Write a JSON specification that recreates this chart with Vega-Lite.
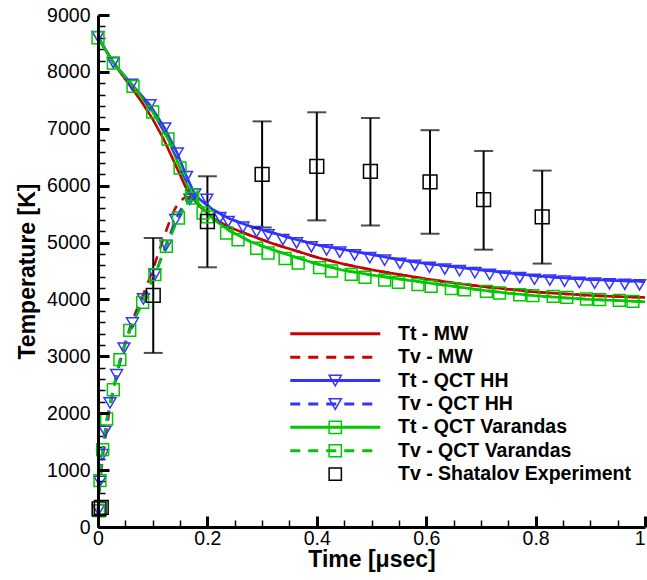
{
  "$schema": "https://vega.github.io/schema/vega-lite/v6.json",
  "width": 547,
  "height": 512,
  "autosize": "none",
  "padding": {"left": 98, "top": 15, "right": 2, "bottom": 53},
  "background": "white",
  "config": {"view": {"stroke": null}, "font": "Liberation Sans"},
  "datasets": {
    "curves": [
      {"series": "Tt - MW", "t": 0, "T": 8600}, {"series": "Tt - MW", "t": 0.02, "T": 8290}, {"series": "Tt - MW", "t": 0.04, "T": 8000}, {"series": "Tt - MW", "t": 0.06, "T": 7740}, {"series": "Tt - MW", "t": 0.08, "T": 7470}, {"series": "Tt - MW", "t": 0.10, "T": 7170}, {"series": "Tt - MW", "t": 0.12, "T": 6820}, {"series": "Tt - MW", "t": 0.14, "T": 6400}, {"series": "Tt - MW", "t": 0.16, "T": 5980}, {"series": "Tt - MW", "t": 0.172, "T": 5790}, {"series": "Tt - MW", "t": 0.186, "T": 5640}, {"series": "Tt - MW", "t": 0.21, "T": 5430}, {"series": "Tt - MW", "t": 0.24, "T": 5270}, {"series": "Tt - MW", "t": 0.28, "T": 5120}, {"series": "Tt - MW", "t": 0.32, "T": 4980}, {"series": "Tt - MW", "t": 0.36, "T": 4860}, {"series": "Tt - MW", "t": 0.40, "T": 4740}, {"series": "Tt - MW", "t": 0.45, "T": 4620}, {"series": "Tt - MW", "t": 0.50, "T": 4520}, {"series": "Tt - MW", "t": 0.55, "T": 4440}, {"series": "Tt - MW", "t": 0.60, "T": 4360}, {"series": "Tt - MW", "t": 0.65, "T": 4290}, {"series": "Tt - MW", "t": 0.70, "T": 4230}, {"series": "Tt - MW", "t": 0.75, "T": 4180}, {"series": "Tt - MW", "t": 0.80, "T": 4130}, {"series": "Tt - MW", "t": 0.85, "T": 4100}, {"series": "Tt - MW", "t": 0.90, "T": 4070}, {"series": "Tt - MW", "t": 0.95, "T": 4050}, {"series": "Tt - MW", "t": 1.0, "T": 4035},
      {"series": "Tv - MW", "t": 0, "T": 300}, {"series": "Tv - MW", "t": 0.004, "T": 800}, {"series": "Tv - MW", "t": 0.01, "T": 1350}, {"series": "Tv - MW", "t": 0.02, "T": 2000}, {"series": "Tv - MW", "t": 0.03, "T": 2500}, {"series": "Tv - MW", "t": 0.04, "T": 2900}, {"series": "Tv - MW", "t": 0.05, "T": 3250}, {"series": "Tv - MW", "t": 0.06, "T": 3550}, {"series": "Tv - MW", "t": 0.07, "T": 3800}, {"series": "Tv - MW", "t": 0.08, "T": 4020}, {"series": "Tv - MW", "t": 0.09, "T": 4260}, {"series": "Tv - MW", "t": 0.10, "T": 4520}, {"series": "Tv - MW", "t": 0.11, "T": 4800}, {"series": "Tv - MW", "t": 0.12, "T": 5080}, {"series": "Tv - MW", "t": 0.13, "T": 5350}, {"series": "Tv - MW", "t": 0.14, "T": 5580}, {"series": "Tv - MW", "t": 0.15, "T": 5730}, {"series": "Tv - MW", "t": 0.16, "T": 5800}, {"series": "Tv - MW", "t": 0.172, "T": 5790}, {"series": "Tv - MW", "t": 0.186, "T": 5640}, {"series": "Tv - MW", "t": 0.21, "T": 5430}, {"series": "Tv - MW", "t": 0.24, "T": 5270}, {"series": "Tv - MW", "t": 0.28, "T": 5120}, {"series": "Tv - MW", "t": 0.32, "T": 4980}, {"series": "Tv - MW", "t": 0.36, "T": 4860}, {"series": "Tv - MW", "t": 0.40, "T": 4740}, {"series": "Tv - MW", "t": 0.45, "T": 4620}, {"series": "Tv - MW", "t": 0.50, "T": 4520}, {"series": "Tv - MW", "t": 0.55, "T": 4440}, {"series": "Tv - MW", "t": 0.60, "T": 4360}, {"series": "Tv - MW", "t": 0.65, "T": 4290}, {"series": "Tv - MW", "t": 0.70, "T": 4230}, {"series": "Tv - MW", "t": 0.75, "T": 4180}, {"series": "Tv - MW", "t": 0.80, "T": 4130}, {"series": "Tv - MW", "t": 0.85, "T": 4100}, {"series": "Tv - MW", "t": 0.90, "T": 4070}, {"series": "Tv - MW", "t": 0.95, "T": 4050}, {"series": "Tv - MW", "t": 1.0, "T": 4035},
      {"series": "Tt - QCT HH", "t": 0, "T": 8620}, {"series": "Tt - QCT HH", "t": 0.028, "T": 8160}, {"series": "Tt - QCT HH", "t": 0.062, "T": 7780}, {"series": "Tt - QCT HH", "t": 0.095, "T": 7420}, {"series": "Tt - QCT HH", "t": 0.122, "T": 7010}, {"series": "Tt - QCT HH", "t": 0.145, "T": 6570}, {"series": "Tt - QCT HH", "t": 0.162, "T": 6160}, {"series": "Tt - QCT HH", "t": 0.177, "T": 5850}, {"series": "Tt - QCT HH", "t": 0.186, "T": 5760}, {"series": "Tt - QCT HH", "t": 0.21, "T": 5580}, {"series": "Tt - QCT HH", "t": 0.24, "T": 5420}, {"series": "Tt - QCT HH", "t": 0.28, "T": 5280}, {"series": "Tt - QCT HH", "t": 0.32, "T": 5170}, {"series": "Tt - QCT HH", "t": 0.36, "T": 5060}, {"series": "Tt - QCT HH", "t": 0.40, "T": 4960}, {"series": "Tt - QCT HH", "t": 0.45, "T": 4875}, {"series": "Tt - QCT HH", "t": 0.50, "T": 4790}, {"series": "Tt - QCT HH", "t": 0.55, "T": 4700}, {"series": "Tt - QCT HH", "t": 0.60, "T": 4630}, {"series": "Tt - QCT HH", "t": 0.65, "T": 4575}, {"series": "Tt - QCT HH", "t": 0.70, "T": 4520}, {"series": "Tt - QCT HH", "t": 0.75, "T": 4465}, {"series": "Tt - QCT HH", "t": 0.80, "T": 4415}, {"series": "Tt - QCT HH", "t": 0.85, "T": 4380}, {"series": "Tt - QCT HH", "t": 0.90, "T": 4350}, {"series": "Tt - QCT HH", "t": 0.95, "T": 4330}, {"series": "Tt - QCT HH", "t": 1.0, "T": 4315},
      {"series": "Tv - QCT HH", "t": 0, "T": 300}, {"series": "Tv - QCT HH", "t": 0.004, "T": 850}, {"series": "Tv - QCT HH", "t": 0.0085, "T": 1271}, {"series": "Tv - QCT HH", "t": 0.0128, "T": 1681}, {"series": "Tv - QCT HH", "t": 0.022, "T": 2180}, {"series": "Tv - QCT HH", "t": 0.034, "T": 2677}, {"series": "Tv - QCT HH", "t": 0.0475, "T": 3146}, {"series": "Tv - QCT HH", "t": 0.063, "T": 3586}, {"series": "Tv - QCT HH", "t": 0.083, "T": 4008}, {"series": "Tv - QCT HH", "t": 0.104, "T": 4435}, {"series": "Tv - QCT HH", "t": 0.124, "T": 4950}, {"series": "Tv - QCT HH", "t": 0.142, "T": 5402}, {"series": "Tv - QCT HH", "t": 0.158, "T": 5700}, {"series": "Tv - QCT HH", "t": 0.17, "T": 5790}, {"series": "Tv - QCT HH", "t": 0.186, "T": 5760}, {"series": "Tv - QCT HH", "t": 0.21, "T": 5580}, {"series": "Tv - QCT HH", "t": 0.24, "T": 5420}, {"series": "Tv - QCT HH", "t": 0.28, "T": 5280}, {"series": "Tv - QCT HH", "t": 0.32, "T": 5170}, {"series": "Tv - QCT HH", "t": 0.36, "T": 5060}, {"series": "Tv - QCT HH", "t": 0.40, "T": 4960}, {"series": "Tv - QCT HH", "t": 0.45, "T": 4875}, {"series": "Tv - QCT HH", "t": 0.50, "T": 4790}, {"series": "Tv - QCT HH", "t": 0.55, "T": 4700}, {"series": "Tv - QCT HH", "t": 0.60, "T": 4630}, {"series": "Tv - QCT HH", "t": 0.65, "T": 4575}, {"series": "Tv - QCT HH", "t": 0.70, "T": 4520}, {"series": "Tv - QCT HH", "t": 0.75, "T": 4465}, {"series": "Tv - QCT HH", "t": 0.80, "T": 4415}, {"series": "Tv - QCT HH", "t": 0.85, "T": 4380}, {"series": "Tv - QCT HH", "t": 0.90, "T": 4350}, {"series": "Tv - QCT HH", "t": 0.95, "T": 4330}, {"series": "Tv - QCT HH", "t": 1.0, "T": 4315},
      {"series": "Tt - QCT Varandas", "t": 0, "T": 8600}, {"series": "Tt - QCT Varandas", "t": 0.028, "T": 8156}, {"series": "Tt - QCT Varandas", "t": 0.064, "T": 7745}, {"series": "Tt - QCT Varandas", "t": 0.1, "T": 7295}, {"series": "Tt - QCT Varandas", "t": 0.128, "T": 6820}, {"series": "Tt - QCT Varandas", "t": 0.15, "T": 6310}, {"series": "Tt - QCT Varandas", "t": 0.171, "T": 5841}, {"series": "Tt - QCT Varandas", "t": 0.186, "T": 5665}, {"series": "Tt - QCT Varandas", "t": 0.21, "T": 5420}, {"series": "Tt - QCT Varandas", "t": 0.24, "T": 5210}, {"series": "Tt - QCT Varandas", "t": 0.28, "T": 5010}, {"series": "Tt - QCT Varandas", "t": 0.32, "T": 4870}, {"series": "Tt - QCT Varandas", "t": 0.36, "T": 4745}, {"series": "Tt - QCT Varandas", "t": 0.40, "T": 4625}, {"series": "Tt - QCT Varandas", "t": 0.45, "T": 4510}, {"series": "Tt - QCT Varandas", "t": 0.50, "T": 4430}, {"series": "Tt - QCT Varandas", "t": 0.55, "T": 4360}, {"series": "Tt - QCT Varandas", "t": 0.60, "T": 4295}, {"series": "Tt - QCT Varandas", "t": 0.65, "T": 4230}, {"series": "Tt - QCT Varandas", "t": 0.70, "T": 4165}, {"series": "Tt - QCT Varandas", "t": 0.75, "T": 4110}, {"series": "Tt - QCT Varandas", "t": 0.80, "T": 4065}, {"series": "Tt - QCT Varandas", "t": 0.85, "T": 4030}, {"series": "Tt - QCT Varandas", "t": 0.90, "T": 4000}, {"series": "Tt - QCT Varandas", "t": 0.95, "T": 3980}, {"series": "Tt - QCT Varandas", "t": 1.0, "T": 3960},
      {"series": "Tv - QCT Varandas", "t": 0, "T": 290}, {"series": "Tv - QCT Varandas", "t": 0.0036, "T": 814}, {"series": "Tv - QCT Varandas", "t": 0.0085, "T": 1359}, {"series": "Tv - QCT Varandas", "t": 0.0158, "T": 1898}, {"series": "Tv - QCT Varandas", "t": 0.028, "T": 2413}, {"series": "Tv - QCT Varandas", "t": 0.04, "T": 2941}, {"series": "Tv - QCT Varandas", "t": 0.058, "T": 3456}, {"series": "Tv - QCT Varandas", "t": 0.0816, "T": 3948}, {"series": "Tv - QCT Varandas", "t": 0.104, "T": 4435}, {"series": "Tv - QCT Varandas", "t": 0.125, "T": 4932}, {"series": "Tv - QCT Varandas", "t": 0.147, "T": 5431}, {"series": "Tv - QCT Varandas", "t": 0.163, "T": 5700}, {"series": "Tv - QCT Varandas", "t": 0.175, "T": 5790}, {"series": "Tv - QCT Varandas", "t": 0.186, "T": 5665}, {"series": "Tv - QCT Varandas", "t": 0.21, "T": 5420}, {"series": "Tv - QCT Varandas", "t": 0.24, "T": 5210}, {"series": "Tv - QCT Varandas", "t": 0.28, "T": 5010}, {"series": "Tv - QCT Varandas", "t": 0.32, "T": 4870}, {"series": "Tv - QCT Varandas", "t": 0.36, "T": 4745}, {"series": "Tv - QCT Varandas", "t": 0.40, "T": 4625}, {"series": "Tv - QCT Varandas", "t": 0.45, "T": 4510}, {"series": "Tv - QCT Varandas", "t": 0.50, "T": 4430}, {"series": "Tv - QCT Varandas", "t": 0.55, "T": 4360}, {"series": "Tv - QCT Varandas", "t": 0.60, "T": 4295}, {"series": "Tv - QCT Varandas", "t": 0.65, "T": 4230}, {"series": "Tv - QCT Varandas", "t": 0.70, "T": 4165}, {"series": "Tv - QCT Varandas", "t": 0.75, "T": 4110}, {"series": "Tv - QCT Varandas", "t": 0.80, "T": 4065}, {"series": "Tv - QCT Varandas", "t": 0.85, "T": 4030}, {"series": "Tv - QCT Varandas", "t": 0.90, "T": 4000}, {"series": "Tv - QCT Varandas", "t": 0.95, "T": 3980}, {"series": "Tv - QCT Varandas", "t": 1.0, "T": 3960}
    ],
    "markers": [
      {"series": "Tt - QCT HH", "t": 0, "T": 8620}, {"series": "Tt - QCT HH", "t": 0.028, "T": 8160}, {"series": "Tt - QCT HH", "t": 0.062, "T": 7780}, {"series": "Tt - QCT HH", "t": 0.095, "T": 7420}, {"series": "Tt - QCT HH", "t": 0.122, "T": 7010}, {"series": "Tt - QCT HH", "t": 0.145, "T": 6570}, {"series": "Tt - QCT HH", "t": 0.162, "T": 6160}, {"series": "Tt - QCT HH", "t": 0.177, "T": 5850}, {"series": "Tt - QCT HH", "t": 0.199, "T": 5757}, {"series": "Tt - QCT HH", "t": 0.238, "T": 5370}, {"series": "Tt - QCT HH", "t": 0.29, "T": 5190}, {"series": "Tt - QCT HH", "t": 0.338, "T": 5050}, {"series": "Tt - QCT HH", "t": 0.39, "T": 4925}, {"series": "Tt - QCT HH", "t": 0.442, "T": 4830}, {"series": "Tt - QCT HH", "t": 0.497, "T": 4735}, {"series": "Tt - QCT HH", "t": 0.552, "T": 4635}, {"series": "Tt - QCT HH", "t": 0.606, "T": 4565}, {"series": "Tt - QCT HH", "t": 0.661, "T": 4505}, {"series": "Tt - QCT HH", "t": 0.716, "T": 4440}, {"series": "Tt - QCT HH", "t": 0.771, "T": 4385}, {"series": "Tt - QCT HH", "t": 0.826, "T": 4340}, {"series": "Tt - QCT HH", "t": 0.88, "T": 4300}, {"series": "Tt - QCT HH", "t": 0.935, "T": 4275}, {"series": "Tt - QCT HH", "t": 0.99, "T": 4258},
      {"series": "Tv - QCT HH", "t": 0.001, "T": 300}, {"series": "Tv - QCT HH", "t": 0.0036, "T": 802}, {"series": "Tv - QCT HH", "t": 0.0085, "T": 1271}, {"series": "Tv - QCT HH", "t": 0.0128, "T": 1681}, {"series": "Tv - QCT HH", "t": 0.022, "T": 2180}, {"series": "Tv - QCT HH", "t": 0.034, "T": 2677}, {"series": "Tv - QCT HH", "t": 0.0475, "T": 3146}, {"series": "Tv - QCT HH", "t": 0.063, "T": 3586}, {"series": "Tv - QCT HH", "t": 0.083, "T": 4008}, {"series": "Tv - QCT HH", "t": 0.104, "T": 4435}, {"series": "Tv - QCT HH", "t": 0.124, "T": 4950}, {"series": "Tv - QCT HH", "t": 0.142, "T": 5402}, {"series": "Tv - QCT HH", "t": 0.168, "T": 5757}, {"series": "Tv - QCT HH", "t": 0.223, "T": 5440}, {"series": "Tv - QCT HH", "t": 0.265, "T": 5270}, {"series": "Tv - QCT HH", "t": 0.311, "T": 5135}, {"series": "Tv - QCT HH", "t": 0.363, "T": 4995}, {"series": "Tv - QCT HH", "t": 0.418, "T": 4870}, {"series": "Tv - QCT HH", "t": 0.469, "T": 4785}, {"series": "Tv - QCT HH", "t": 0.524, "T": 4690}, {"series": "Tv - QCT HH", "t": 0.579, "T": 4600}, {"series": "Tv - QCT HH", "t": 0.634, "T": 4535}, {"series": "Tv - QCT HH", "t": 0.689, "T": 4470}, {"series": "Tv - QCT HH", "t": 0.743, "T": 4410}, {"series": "Tv - QCT HH", "t": 0.798, "T": 4355}, {"series": "Tv - QCT HH", "t": 0.853, "T": 4320}, {"series": "Tv - QCT HH", "t": 0.908, "T": 4285}, {"series": "Tv - QCT HH", "t": 0.963, "T": 4265},
      {"series": "Tt - QCT Varandas", "t": 0, "T": 8600}, {"series": "Tt - QCT Varandas", "t": 0.028, "T": 8156}, {"series": "Tt - QCT Varandas", "t": 0.064, "T": 7745}, {"series": "Tt - QCT Varandas", "t": 0.1, "T": 7295}, {"series": "Tt - QCT Varandas", "t": 0.128, "T": 6820}, {"series": "Tt - QCT Varandas", "t": 0.15, "T": 6310}, {"series": "Tt - QCT Varandas", "t": 0.171, "T": 5841}, {"series": "Tt - QCT Varandas", "t": 0.2, "T": 5450}, {"series": "Tt - QCT Varandas", "t": 0.235, "T": 5168}, {"series": "Tt - QCT Varandas", "t": 0.29, "T": 4900}, {"series": "Tt - QCT Varandas", "t": 0.342, "T": 4720}, {"series": "Tt - QCT Varandas", "t": 0.405, "T": 4560}, {"series": "Tt - QCT Varandas", "t": 0.463, "T": 4440}, {"series": "Tt - QCT Varandas", "t": 0.524, "T": 4340}, {"series": "Tt - QCT Varandas", "t": 0.585, "T": 4260}, {"series": "Tt - QCT Varandas", "t": 0.646, "T": 4190}, {"series": "Tt - QCT Varandas", "t": 0.71, "T": 4141}, {"series": "Tt - QCT Varandas", "t": 0.771, "T": 4083}, {"series": "Tt - QCT Varandas", "t": 0.832, "T": 4054}, {"series": "Tt - QCT Varandas", "t": 0.893, "T": 4008}, {"series": "Tt - QCT Varandas", "t": 0.953, "T": 3983},
      {"series": "Tv - QCT Varandas", "t": 0.001, "T": 287}, {"series": "Tv - QCT Varandas", "t": 0.0036, "T": 814}, {"series": "Tv - QCT Varandas", "t": 0.0085, "T": 1359}, {"series": "Tv - QCT Varandas", "t": 0.0158, "T": 1898}, {"series": "Tv - QCT Varandas", "t": 0.028, "T": 2413}, {"series": "Tv - QCT Varandas", "t": 0.04, "T": 2941}, {"series": "Tv - QCT Varandas", "t": 0.058, "T": 3456}, {"series": "Tv - QCT Varandas", "t": 0.0816, "T": 3948}, {"series": "Tv - QCT Varandas", "t": 0.104, "T": 4435}, {"series": "Tv - QCT Varandas", "t": 0.125, "T": 4932}, {"series": "Tv - QCT Varandas", "t": 0.147, "T": 5431}, {"series": "Tv - QCT Varandas", "t": 0.173, "T": 5780}, {"series": "Tv - QCT Varandas", "t": 0.192, "T": 5519}, {"series": "Tv - QCT Varandas", "t": 0.256, "T": 5050}, {"series": "Tv - QCT Varandas", "t": 0.311, "T": 4816}, {"series": "Tv - QCT Varandas", "t": 0.366, "T": 4640}, {"series": "Tv - QCT Varandas", "t": 0.427, "T": 4500}, {"series": "Tv - QCT Varandas", "t": 0.488, "T": 4390}, {"series": "Tv - QCT Varandas", "t": 0.549, "T": 4300}, {"series": "Tv - QCT Varandas", "t": 0.609, "T": 4230}, {"series": "Tv - QCT Varandas", "t": 0.67, "T": 4170}, {"series": "Tv - QCT Varandas", "t": 0.734, "T": 4113}, {"series": "Tv - QCT Varandas", "t": 0.795, "T": 4066}, {"series": "Tv - QCT Varandas", "t": 0.857, "T": 4036}, {"series": "Tv - QCT Varandas", "t": 0.917, "T": 3996}, {"series": "Tv - QCT Varandas", "t": 0.978, "T": 3966},
      {"series": "Tv - Shatalov Experiment", "t": 0.002, "T": 320}, {"series": "Tv - Shatalov Experiment", "t": 0.006, "T": 345}, {"series": "Tv - Shatalov Experiment", "t": 0.101, "T": 4070}, {"series": "Tv - Shatalov Experiment", "t": 0.2, "T": 5370}, {"series": "Tv - Shatalov Experiment", "t": 0.3, "T": 6200}, {"series": "Tv - Shatalov Experiment", "t": 0.4, "T": 6340}, {"series": "Tv - Shatalov Experiment", "t": 0.498, "T": 6250}, {"series": "Tv - Shatalov Experiment", "t": 0.607, "T": 6065}, {"series": "Tv - Shatalov Experiment", "t": 0.705, "T": 5755}, {"series": "Tv - Shatalov Experiment", "t": 0.812, "T": 5450}
    ],
    "errors": [
      {"t": 0.101, "lo": 3060, "hi": 5080}, {"t": 0.2, "lo": 4565, "hi": 6165}, {"t": 0.3, "lo": 5265, "hi": 7130}, {"t": 0.4, "lo": 5390, "hi": 7290}, {"t": 0.498, "lo": 5300, "hi": 7190}, {"t": 0.607, "lo": 5155, "hi": 6975}, {"t": 0.705, "lo": 4875, "hi": 6610}, {"t": 0.812, "lo": 4630, "hi": 6265}
    ]
  },
  "layer": [
    {
      "data": {"name": "curves"},
      "mark": {"type": "line", "strokeWidth": 2.6},
      "encoding": {
        "x": {"field": "t", "type": "quantitative", "scale": {"domain": [0, 1], "nice": false, "zero": false},
          "axis": {"orient": "bottom", "values": [0.05, 0.1, 0.15, 0.25, 0.3, 0.35, 0.45, 0.5, 0.55, 0.65, 0.7, 0.75, 0.85, 0.9, 0.95], "labels": false, "domain": false, "grid": false, "title": null, "tickSize": -7, "tickWidth": 1.5, "tickColor": "black"}},
        "y": {"field": "T", "type": "quantitative", "scale": {"domain": [0, 9000], "nice": false},
          "axis": {"orient": "left", "values": [200, 400, 600, 800, 1200, 1400, 1600, 1800, 2200, 2400, 2600, 2800, 3200, 3400, 3600, 3800, 4200, 4400, 4600, 4800, 5200, 5400, 5600, 5800, 6200, 6400, 6600, 6800, 7200, 7400, 7600, 7800, 8200, 8400, 8600, 8800], "labels": false, "domain": false, "grid": false, "title": null, "tickSize": -7, "tickWidth": 1.5, "tickColor": "black"}},
        "color": {"field": "series", "type": "nominal",
          "scale": {"domain": ["Tt - MW", "Tv - MW", "Tt - QCT HH", "Tv - QCT HH", "Tt - QCT Varandas", "Tv - QCT Varandas", "Tv - Shatalov Experiment"], "range": ["#cc0000", "#cc0000", "#3333ff", "#3333ff", "#00c800", "#00c800", "transparent"]},
          "legend": {"title": null, "orient": "none", "legendX": 182.5, "legendY": 309, "symbolType": "M0,0H18", "symbolSize": 100, "symbolStrokeWidth": 3, "labelFont": "Liberation Sans", "labelFontSize": 19.5, "labelFontWeight": "bold", "labelColor": "black", "labelOffset": 98, "rowPadding": 2.4, "padding": 0, "labelLimit": 400}},
        "strokeDash": {"field": "series", "type": "nominal",
          "scale": {"domain": ["Tt - MW", "Tv - MW", "Tt - QCT HH", "Tv - QCT HH", "Tt - QCT Varandas", "Tv - QCT Varandas", "Tv - Shatalov Experiment"], "range": [[1, 0], [10, 8], [1, 0], [10, 8], [1, 0], [10, 8], [1, 0]]},
          "legend": {"title": null, "orient": "none", "legendX": 182.5, "legendY": 309, "symbolType": "M0,0H18", "symbolSize": 100, "symbolStrokeWidth": 3, "labelFont": "Liberation Sans", "labelFontSize": 19.5, "labelFontWeight": "bold", "labelColor": "black", "labelOffset": 98, "rowPadding": 2.4, "padding": 0, "labelLimit": 400}}
      }
    },
    {
      "data": {"name": "errors"},
      "mark": {"type": "rule", "color": "black", "strokeWidth": 2},
      "encoding": {
        "x": {"field": "t", "type": "quantitative", "axis": null},
        "y": {"field": "lo", "type": "quantitative", "axis": null},
        "y2": {"field": "hi"}
      }
    },
    {
      "data": {"name": "errors"},
      "mark": {"type": "tick", "orient": "horizontal", "color": "black", "size": 19, "thickness": 2},
      "encoding": {
        "x": {"field": "t", "type": "quantitative", "axis": null},
        "y": {"field": "lo", "type": "quantitative", "axis": null}
      }
    },
    {
      "data": {"name": "errors"},
      "mark": {"type": "tick", "orient": "horizontal", "color": "black", "size": 19, "thickness": 2},
      "encoding": {
        "x": {"field": "t", "type": "quantitative", "axis": null},
        "y": {"field": "hi", "type": "quantitative", "axis": null}
      }
    },
    {
      "data": {"name": "markers"},
      "mark": {"type": "point", "filled": false, "strokeWidth": 1.5, "opacity": 1},
      "encoding": {
        "x": {"field": "t", "type": "quantitative", "scale": {"domain": [0, 1], "nice": false, "zero": false},
          "axis": {"orient": "bottom", "values": [0, 0.2, 0.4, 0.6, 0.8, 1], "format": "~g", "grid": false, "zindex": 1, "domainColor": "black", "domainWidth": 3, "tickColor": "black", "tickWidth": 3, "tickSize": -11, "labelFont": "Liberation Sans", "labelFontSize": 19.5, "labelColor": "black", "labelPadding": 13, "labelFlush": false, "labelAlign": {"condition": {"test": "datum.value === 1", "value": "right"}, "value": "center"}, "title": "Time [μsec]", "titleFont": "Liberation Sans", "titleFontSize": 23, "titleFontWeight": "bold", "titleColor": "black", "titlePadding": 1}},
        "y": {"field": "T", "type": "quantitative", "scale": {"domain": [0, 9000], "nice": false},
          "axis": {"orient": "left", "values": [0, 1000, 2000, 3000, 4000, 5000, 6000, 7000, 8000, 9000], "format": "d", "grid": false, "zindex": 1, "domainColor": "black", "domainWidth": 3, "tickColor": "black", "tickWidth": 3, "tickSize": -11, "labelFont": "Liberation Sans", "labelFontSize": 19.5, "labelColor": "black", "labelPadding": 19, "title": "Temperature [K]", "titleFont": "Liberation Sans", "titleFontSize": 23, "titleFontWeight": "bold", "titleColor": "black", "titlePadding": 7}},
        "color": {"field": "series", "type": "nominal",
          "scale": {"domain": ["Tt - MW", "Tv - MW", "Tt - QCT HH", "Tv - QCT HH", "Tt - QCT Varandas", "Tv - QCT Varandas", "Tv - Shatalov Experiment"], "range": ["transparent", "transparent", "#3333ff", "#3333ff", "#00c800", "#00c800", "black"]},
          "legend": {"title": null, "orient": "none", "legendX": 227.5, "legendY": 309, "symbolSize": 150, "symbolStrokeWidth": 1.5, "labelFont": "Liberation Sans", "labelFontSize": 19.5, "labelFontWeight": "bold", "labelExpr": "' '", "rowPadding": 2.4, "padding": 0, "labelLimit": 400}},
        "shape": {"field": "series", "type": "nominal",
          "scale": {"domain": ["Tt - MW", "Tv - MW", "Tt - QCT HH", "Tv - QCT HH", "Tt - QCT Varandas", "Tv - QCT Varandas", "Tv - Shatalov Experiment"], "range": ["circle", "circle", "triangle-down", "triangle-down", "square", "square", "square"]},
          "legend": {"title": null, "orient": "none", "legendX": 227.5, "legendY": 309, "symbolSize": 150, "symbolStrokeWidth": 1.5, "labelFont": "Liberation Sans", "labelFontSize": 19.5, "labelFontWeight": "bold", "labelExpr": "' '", "rowPadding": 2.4, "padding": 0, "labelLimit": 400}},
        "size": {"condition": {"test": "datum.series === 'Tv - Shatalov Experiment'", "value": 190}, "value": 140}
      }
    }
  ],
  "resolve": {
    "scale": {"color": "independent", "shape": "independent", "strokeDash": "independent"},
    "axis": {"x": "independent", "y": "independent"},
    "legend": {"color": "independent", "shape": "independent", "strokeDash": "independent"}
  }
}
